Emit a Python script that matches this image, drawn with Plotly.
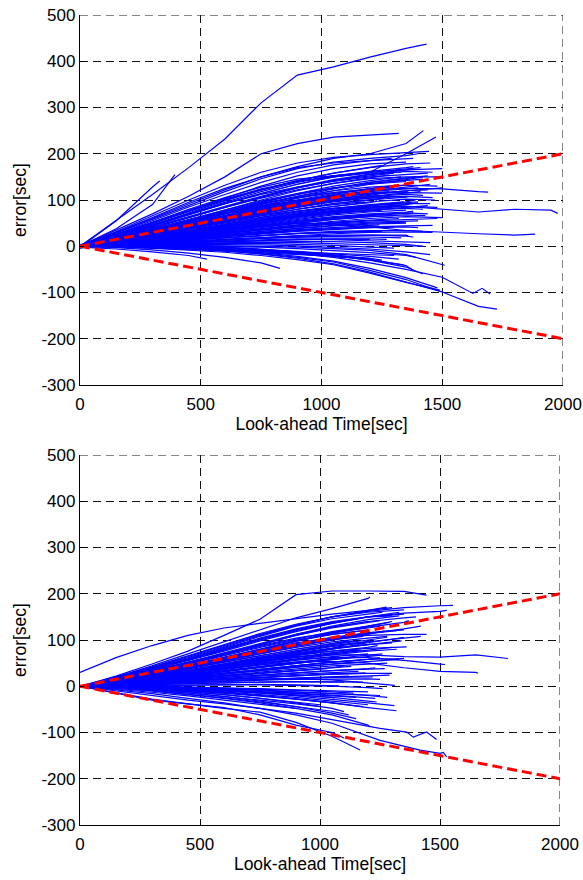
import plotly.graph_objects as go

# ---------------- data ----------------
GRID_T = [0, 150, 300, 450, 600, 750, 900, 1050, 1200, 1350, 1500, 1650, 1800, 1950]

X_TICKS = [0, 500, 1000, 1500, 2000]
X_TICK_TEXT = ["0", "500", "1000", "1500", "2000"]
Y_TICKS = [-300, -200, -100, 0, 100, 200, 300, 400, 500]
Y_TICK_TEXT = ["-300", "-200", "-100", "0", "100", "200", "300", "400", "500"]

RED_T = [0, 250, 500, 750, 1000, 1250, 1500, 1750, 2000]
RED_UP = [0, 25, 50, 75, 100, 125, 150, 175, 200]
RED_LO = [0, -25, -50, -75, -100, -125, -150, -175, -200]

# top panel: end time of each track, values on GRID_T (last value = value at end time)
TOP_END_T = [1320, 1422, 1474, 1445, 1400, 1380, 1290, 1350, 1450, 1410,
             1500, 1250, 1380, 1460, 1330, 1440, 1500, 1420, 1350, 1480,
             1690, 1500, 1300, 1400, 1440, 1360, 1280, 1500, 1420, 1330,
             1460, 1250, 1978, 1885, 1400, 1360, 1300, 1480, 1420, 1350,
             1250, 1440, 1380, 1300, 1500, 1400, 1350, 1460, 1300, 1420,
             1250, 1380, 1330, 1450, 1200, 1420, 1300, 1340, 1510, 1727,
             1500, 1490, 1480, 1420, 1380, 828, 525, 1250, 1300, 1200,
             1435, 330, 393]
TOP_VALUES = [
    [0, 35, 70, 108, 150, 200, 222, 236, 240, 244],
    [0, 30, 62, 95, 125, 150, 172, 190, 200, 222, 250],
    [0, 25, 52, 80, 105, 128, 145, 152, 160, 200, 236],
    [0, 32, 66, 100, 132, 160, 180, 192, 198, 202, 205],
    [0, 28, 58, 88, 118, 146, 168, 182, 190, 196, 200],
    [2, 30, 60, 92, 122, 150, 170, 180, 185, 188, 190],
    [0, 26, 55, 85, 112, 138, 160, 176, 185, 190],
    [-2, 22, 48, 76, 104, 130, 152, 168, 178, 182],
    [0, 24, 50, 75, 100, 122, 142, 158, 170, 178, 180],
    [3, 26, 52, 78, 102, 124, 140, 152, 160, 166, 170],
    [0, 20, 44, 68, 92, 114, 134, 150, 160, 165, 168],
    [0, 22, 46, 72, 98, 122, 142, 158, 170, 175],
    [-3, 20, 45, 70, 95, 118, 138, 152, 162, 170, 172],
    [0, 18, 40, 62, 85, 106, 126, 142, 155, 162, 160],
    [0, 24, 50, 76, 100, 122, 140, 150, 158, 160],
    [2, 22, 46, 70, 92, 112, 128, 140, 150, 156, 158],
    [0, 18, 40, 62, 84, 104, 122, 136, 146, 150, 150],
    [0, 16, 35, 55, 76, 96, 112, 126, 136, 142, 145],
    [-2, 18, 38, 58, 78, 98, 114, 126, 134, 140],
    [0, 14, 32, 52, 72, 92, 108, 120, 128, 132, 130],
    [0, 15, 34, 54, 74, 92, 106, 116, 122, 125, 124, 118, 117],
    [0, 14, 30, 48, 66, 84, 98, 108, 114, 116, 115],
    [3, 16, 34, 52, 70, 88, 104, 116, 124, 128],
    [0, 12, 28, 46, 64, 82, 98, 110, 118, 124, 126],
    [-4, 12, 28, 44, 62, 78, 94, 106, 114, 120, 122],
    [0, 14, 30, 47, 64, 80, 95, 106, 114, 118, 120],
    [0, 16, 34, 52, 70, 86, 100, 110, 116, 118],
    [0, 10, 24, 40, 56, 72, 88, 102, 112, 120, 126],
    [0, 12, 26, 42, 58, 74, 88, 100, 108, 112, 110],
    [2, 13, 28, 44, 60, 76, 90, 100, 106, 108],
    [0, 11, 24, 38, 54, 70, 84, 96, 104, 108, 105],
    [0, 12, 26, 40, 56, 72, 86, 98, 104, 106],
    [0, 12, 26, 40, 54, 66, 76, 82, 85, 86, 80, 74, 80, 78, 71],
    [0, 8, 18, 28, 38, 46, 50, 48, 42, 34, 30, 27, 24, 26],
    [0, 10, 22, 34, 46, 58, 70, 80, 88, 94, 96],
    [-3, 8, 18, 30, 42, 54, 66, 76, 84, 90, 92],
    [0, 10, 20, 32, 44, 56, 68, 78, 84, 88],
    [0, 8, 18, 28, 40, 52, 64, 74, 82, 86, 84],
    [2, 9, 18, 28, 38, 50, 62, 72, 78, 82, 80],
    [0, 7, 16, 26, 36, 48, 58, 68, 74, 78],
    [0, 9, 20, 30, 42, 54, 64, 72, 76, 78],
    [0, 6, 14, 24, 34, 44, 54, 62, 68, 72, 70],
    [0, 8, 16, 25, 34, 44, 52, 60, 66, 70, 72],
    [-2, 6, 14, 22, 32, 42, 50, 58, 64, 66],
    [0, 6, 14, 22, 30, 38, 46, 54, 60, 64, 62],
    [0, 6, 12, 20, 28, 36, 42, 48, 52, 54, 55],
    [0, 5, 12, 18, 25, 32, 38, 44, 48, 50],
    [0, 4, 10, 16, 22, 28, 34, 38, 42, 44, 45],
    [3, 6, 11, 16, 22, 28, 34, 38, 40, 42],
    [0, 3, 8, 13, 18, 24, 28, 32, 34, 34, 32],
    [0, 4, 8, 14, 19, 24, 28, 30, 32, 32],
    [0, 2, 6, 10, 14, 18, 22, 24, 24, 22, 20],
    [-3, 2, 6, 10, 14, 17, 20, 21, 20, 18],
    [0, 2, 5, 8, 10, 12, 14, 14, 12, 10, 8],
    [0, 3, 6, 9, 12, 14, 16, 16, 15],
    [0, 1, 3, 5, 7, 8, 8, 6, 4, 2, 0],
    [0, 2, 4, 6, 6, 6, 4, 2, -2, -4],
    [0, 0, -1, -2, -4, -8, -14, -21, -30, -40],
    [0, 1, 2, 2, 1, 0, -2, -5, -9, -18, -38, -41],
    [0, -1, -3, -6, -10, -16, -24, -34, -52, -72, -99, -130, -136],
    [0, 0, -2, -5, -10, -17, -26, -38, -56, -78, -99],
    [0, -1, -4, -8, -13, -20, -29, -40, -58, -78, -95],
    [0, 0, -2, -4, -8, -14, -22, -32, -48, -68, -90],
    [0, 1, 1, 0, -2, -6, -12, -20, -30, -45, -60],
    [0, 0, 0, -1, -3, -7, -12, -18, -28, -42, -52],
    [0, -3, -8, -15, -24, -36, -48],
    [-2, -6, -12, -20, -28],
    [0, 0, -1, -3, -6, -10, -15, -20, -26, -30],
    [0, -1, -2, -4, -7, -10, -13, -16, -18, -20],
    [0, -2, -4, -7, -10, -14, -18, -22, -26],
    [0, 55, 112, 170, 232, 310, 370, 388, 409, 428, 437],
    [-2, 55, 128, 141],
    [0, 38, 90, 155],
]
TOP_END_T2 = [1390, 1310, 1450, 1270, 1410, 1360, 1230, 1470, 1340, 1400,
              1290, 1440, 1380, 1260, 1430, 1320, 1480, 1350, 1240, 1400,
              1300, 1460, 1360, 1270, 1420, 1330, 1280, 1440, 1370, 1300,
              1220, 1350, 1260, 1390, 1450, 1180, 1120, 1080, 1150, 1000,
              1420, 1390, 1320, 1450, 1200, 1100]
TOP_VALUES2 = [
    [0, 18, 36, 56, 74, 94, 112, 126, 138, 146, 150],
    [0, 15, 33, 50, 68, 84, 100, 114, 124, 132],
    [-2, 14, 30, 46, 62, 80, 96, 110, 120, 128, 134],
    [0, 13, 28, 44, 60, 74, 90, 102, 110, 116],
    [0, 12, 26, 40, 56, 70, 84, 98, 108, 116, 118],
    [2, 12, 25, 38, 52, 66, 80, 92, 100, 106, 108],
    [0, 11, 24, 37, 50, 64, 76, 86, 94, 98],
    [0, 10, 22, 34, 48, 62, 74, 86, 96, 102, 100],
    [0, 9, 20, 32, 44, 58, 70, 82, 90, 96],
    [-3, 9, 19, 30, 42, 54, 66, 76, 84, 90, 94],
    [0, 10, 21, 32, 44, 55, 66, 74, 80, 84],
    [0, 8, 17, 27, 38, 50, 60, 70, 78, 84, 88],
    [0, 7, 16, 25, 35, 46, 56, 64, 70, 74, 76],
    [1, 8, 17, 26, 35, 45, 54, 62, 68, 70],
    [0, 7, 15, 23, 32, 41, 50, 58, 64, 68, 66],
    [0, 6, 13, 21, 29, 38, 46, 52, 56, 60],
    [0, 6, 12, 19, 27, 35, 43, 50, 55, 58, 60],
    [-2, 5, 11, 18, 25, 32, 39, 45, 50, 52],
    [0, 5, 11, 17, 24, 30, 36, 40, 44, 46],
    [0, 4, 9, 15, 21, 27, 32, 36, 40, 42, 40],
    [0, 4, 8, 13, 18, 23, 27, 30, 32, 34],
    [0, 3, 7, 11, 15, 20, 24, 27, 30, 31, 30],
    [0, 3, 6, 10, 13, 17, 20, 22, 24, 24, 22],
    [2, 4, 6, 9, 11, 13, 15, 16, 16, 15],
    [0, 14, 30, 48, 66, 86, 104, 120, 134, 144, 150],
    [0, 16, 34, 54, 74, 94, 114, 130, 142, 150],
    [0, 17, 36, 56, 78, 100, 120, 136, 148, 154],
    [0, 15, 32, 50, 70, 90, 108, 124, 138, 148, 152],
    [0, 20, 42, 64, 86, 108, 128, 144, 156, 164, 166],
    [0, 19, 40, 62, 84, 106, 126, 142, 152, 158],
    [0, 21, 44, 68, 92, 114, 134, 150, 160, 164],
    [0, 13, 28, 44, 60, 78, 96, 112, 124, 132],
    [0, 11, 24, 38, 52, 66, 80, 92, 100, 104],
    [0, 8, 18, 29, 40, 52, 64, 76, 88, 96, 100],
    [0, 10, 22, 35, 48, 60, 72, 82, 88, 92, 92],
    [0, 12, 26, 40, 54, 68, 80, 90, 96],
    [0, 14, 30, 46, 62, 78, 92, 104, 110],
    [0, 10, 22, 34, 46, 58, 68, 76, 80],
    [0, 6, 13, 20, 28, 36, 44, 50, 54],
    [0, 5, 10, 16, 22, 28, 34, 38],
    [0, 2, 4, 6, 8, 9, 10, 10, 8, 4, 0],
    [0, 1, 1, 1, 0, -2, -5, -9, -14, -20, -24],
    [0, 0, -1, -2, -4, -7, -11, -16, -22, -28],
    [0, 2, 3, 4, 4, 3, 1, -2, -6, -12, -18],
    [0, -1, -2, -4, -7, -11, -16, -22, -28],
    [0, 0, -2, -4, -7, -11, -16, -21, -25],
]
# tracks with irregular sample times (zig-zag endings)
TOP_EXTRA_T = [[0, 150, 300, 450, 600, 750, 900, 1050, 1200, 1350, 1500, 1627, 1665, 1698]]
TOP_EXTRA_V = [[0, 0, -1, -3, -6, -10, -16, -24, -36, -50, -67, -102, -91, -103]]

BOT_END_T = [1300, 1444, 1554, 1528, 1208, 1278, 1330, 1400, 1444, 1783,
             1658, 1521, 1361, 1312, 1236, 1319, 1167, 1208, 1150, 1100,
             1250, 1100, 1300, 1250, 1200, 1350, 1180, 1280, 1150, 1220,
             1300, 1100, 1240, 1170, 1320, 1200, 1260, 1130, 1350, 1190,
             1280, 1100, 1230, 1160, 1300, 1120, 1250, 1180, 1080, 1200,
             1150, 1280, 1060, 1200, 1000, 1350, 1420, 1300, 1260, 1350,
             1330]
BOT_VALUES = [
    [30, 62, 88, 110, 126, 136, 146, 156, 164, 170],
    [0, 22, 48, 76, 110, 145, 198, 206, 206, 205, 197],
    [0, 18, 40, 64, 88, 112, 132, 150, 162, 170, 174, 175],
    [0, 16, 36, 58, 80, 102, 122, 138, 150, 158, 162, 164],
    [0, 20, 44, 70, 96, 122, 148, 168, 190, 193],
    [0, 18, 40, 62, 86, 110, 132, 150, 164, 171],
    [0, 16, 36, 56, 78, 100, 120, 136, 150, 160],
    [0, 14, 32, 52, 72, 92, 112, 128, 140, 148, 150],
    [0, 12, 28, 44, 62, 78, 94, 104, 110, 112, 112],
    [0, 10, 22, 34, 46, 56, 64, 68, 68, 64, 63, 68, 60],
    [0, 8, 18, 28, 38, 46, 52, 54, 50, 40, 32, 30, 28],
    [0, 9, 20, 30, 40, 50, 58, 62, 62, 56, 48, 47],
    [0, 10, 22, 34, 46, 58, 68, 76, 82, 85, 85],
    [0, 4, 8, 12, 15, 16, 16, 14, 8, 2],
    [0, -2, -4, -6, -9, -13, -18, -24, -32, -34],
    [0, -3, -6, -10, -14, -20, -28, -36, -46, -53],
    [0, -14, -28, -38, -48, -56, -78, -108, -138],
    [0, -4, -10, -18, -26, -36, -48, -62, -84, -88],
    [0, -3, -8, -14, -22, -32, -44, -58, -70],
    [0, -2, -6, -11, -18, -26, -36, -48, -55],
    [0, 0, -1, -3, -5, -8, -12, -16, -20, -20],
    [0, -15, -30, -38, -46, -62, -84, -100, -112],
    [0, 14, 32, 50, 68, 86, 102, 118, 130, 140],
    [0, 16, 34, 52, 70, 88, 104, 116, 126, 130],
    [0, 14, 30, 48, 66, 84, 100, 112, 122],
    [0, 12, 28, 44, 60, 76, 92, 106, 116, 122],
    [0, 12, 26, 42, 58, 74, 88, 100, 108],
    [0, 10, 24, 38, 54, 70, 84, 96, 104, 108],
    [0, 11, 24, 38, 52, 66, 80, 92, 98],
    [0, 10, 22, 34, 48, 62, 76, 88, 96, 98],
    [0, 9, 20, 32, 44, 58, 70, 82, 90, 94],
    [0, 10, 22, 34, 46, 60, 72, 82, 88],
    [0, 8, 18, 30, 42, 54, 66, 76, 84, 88],
    [0, 8, 18, 28, 40, 52, 62, 72, 78],
    [0, 7, 16, 26, 36, 48, 58, 68, 76, 80],
    [0, 8, 16, 26, 36, 46, 56, 64, 70],
    [0, 6, 14, 22, 32, 42, 52, 60, 66, 70],
    [0, 7, 15, 24, 32, 42, 50, 58, 62],
    [0, 6, 12, 20, 28, 36, 44, 52, 58, 60],
    [0, 5, 12, 18, 26, 34, 42, 48, 52],
    [0, 5, 11, 17, 24, 31, 38, 44, 48, 50],
    [0, 5, 10, 16, 22, 28, 34, 40, 44],
    [0, 4, 9, 14, 19, 24, 30, 34, 38, 40],
    [0, 4, 8, 12, 17, 22, 26, 30, 32],
    [0, 3, 7, 11, 15, 19, 23, 26, 28, 28],
    [0, 3, 6, 9, 12, 15, 18, 20, 22],
    [0, 2, 5, 8, 11, 13, 15, 16, 16, 15],
    [0, 2, 4, 6, 8, 9, 10, 10, 9],
    [0, 1, 2, 3, 4, 4, 3, 2, 1],
    [0, 0, -1, -2, -3, -5, -8, -10, -12],
    [0, -1, -3, -5, -8, -12, -16, -20, -24],
    [0, -1, -2, -4, -6, -9, -12, -16, -20, -24],
    [0, -2, -5, -9, -14, -20, -27, -34, -36],
    [0, -2, -4, -8, -12, -18, -24, -32, -40],
    [0, -3, -7, -12, -18, -26, -34, -40],
    [0, 8, 18, 28, 40, 52, 66, 80, 94, 106],
    [0, 12, 26, 40, 56, 72, 88, 102, 114, 124, 130],
    [0, 16, 36, 58, 82, 104, 124, 140, 150, 152],
    [0, 18, 38, 60, 84, 108, 130, 146, 156, 160],
    [0, 20, 42, 66, 90, 114, 134, 150, 160, 165],
    [0, 14, 30, 48, 68, 90, 112, 130, 144, 152],
]
BOT_END_T2 = [1250, 1180, 1320, 1120, 1280, 1210, 1150, 1300, 1080, 1240,
              1170, 1330, 1130, 1270, 1190, 1220, 1100, 1260, 1140, 1230,
              1060, 1310, 1180, 1000, 1120, 900, 1290, 1200, 1350, 1160,
              1270, 1190, 1340, 1110, 1250, 1030, 1370, 1420, 1160, 1290]
BOT_VALUES2 = [
    [0, 15, 32, 50, 70, 90, 110, 126, 138, 142],
    [0, 13, 28, 44, 62, 80, 98, 112, 120],
    [0, 12, 26, 41, 57, 74, 90, 104, 114, 120],
    [0, 11, 24, 38, 52, 66, 80, 92, 98],
    [0, 10, 22, 35, 49, 63, 77, 90, 100, 106],
    [0, 9, 20, 32, 45, 58, 70, 82, 90, 92],
    [0, 9, 19, 30, 41, 52, 63, 72, 78],
    [0, 8, 17, 27, 38, 49, 60, 70, 78, 84],
    [0, 8, 16, 25, 34, 43, 52, 60, 64],
    [0, 7, 15, 24, 33, 42, 50, 58, 64, 66],
    [0, 6, 13, 21, 29, 37, 45, 52, 56],
    [0, 6, 12, 19, 26, 34, 41, 48, 54, 58],
    [0, 5, 11, 17, 23, 29, 35, 40, 43],
    [0, 5, 10, 15, 20, 25, 30, 34, 37, 38],
    [0, 4, 8, 12, 16, 20, 24, 27, 29],
    [0, 3, 6, 9, 12, 15, 17, 19, 20, 20],
    [0, 2, 4, 6, 8, 9, 10, 10, 9],
    [0, 1, 2, 3, 3, 3, 2, 0, -3, -5],
    [0, 0, -1, -2, -4, -6, -9, -12, -15],
    [0, -1, -3, -5, -8, -11, -15, -19, -24, -26],
    [0, -2, -4, -7, -10, -14, -19, -24, -26],
    [0, -1, -3, -6, -10, -15, -21, -28, -36, -42],
    [0, -3, -6, -10, -15, -21, -28, -36, -44],
    [0, -4, -9, -15, -22, -30, -38, -44],
    [0, -4, -10, -17, -25, -34, -44, -54, -62],
    [0, -6, -13, -21, -30, -40, -48],
    [0, 14, 29, 45, 62, 80, 98, 116, 130, 138],
    [0, 16, 33, 51, 70, 90, 110, 128, 140],
    [0, 17, 36, 56, 76, 98, 118, 136, 150, 156],
    [0, 18, 38, 58, 80, 102, 122, 138, 146],
    [0, 12, 25, 39, 54, 70, 86, 100, 112, 120],
    [0, 10, 21, 33, 46, 60, 74, 86, 94],
    [0, 9, 19, 30, 42, 55, 68, 80, 90, 98],
    [0, 7, 14, 22, 31, 40, 49, 57, 62],
    [0, 6, 13, 20, 28, 36, 44, 52, 58, 62],
    [0, 5, 10, 16, 22, 28, 34, 38],
    [0, 13, 28, 44, 61, 79, 97, 114, 128, 138, 142],
    [0, 10, 21, 33, 46, 60, 74, 86, 96, 104, 108],
    [0, 3, 7, 11, 15, 19, 23, 26, 28],
    [0, 2, 5, 8, 11, 14, 17, 20, 22, 24],
]
BOT_EXTRA_T = [[0, 150, 300, 450, 600, 750, 900, 1050, 1250, 1361, 1389, 1444, 1486],
               [0, 150, 300, 450, 600, 750, 900, 1050, 1250, 1417, 1500, 1514, 1528]]
BOT_EXTRA_V = [[0, -10, -20, -30, -38, -48, -58, -72, -91, -99, -110, -99, -115],
               [0, -8, -16, -26, -36, -48, -62, -80, -117, -138, -145, -143, -153]]

# ---------------- figure ----------------
W, H = 583, 880
BLUE = "#0000ff"
FONT = "Liberation Sans, Arial, sans-serif"
GRID_DASH = "8px,5px"
GRID_COLOR = "#111111"


def grid_track(end_t, vals):
    ts = [g for g in GRID_T if g < end_t]
    n = min(len(ts), len(vals) - 1)
    return ts[:n] + [end_t], list(vals[:n]) + [vals[-1]]


fig = go.Figure()


def add_panel(groups, extra_t, extra_v, xa, ya):
    for ends, values in groups:
        for e, v in zip(ends, values):
            t, y = grid_track(e, v)
            fig.add_trace(go.Scatter(x=t, y=y, mode="lines", xaxis=xa, yaxis=ya,
                                     line=dict(color=BLUE, width=1.2), hoverinfo="skip"))
    for t, y in zip(extra_t, extra_v):
        fig.add_trace(go.Scatter(x=t, y=y, mode="lines", xaxis=xa, yaxis=ya,
                                 line=dict(color=BLUE, width=1.2), hoverinfo="skip"))
    for ry in (RED_UP, RED_LO):
        fig.add_trace(go.Scatter(x=RED_T, y=ry, mode="lines", xaxis=xa, yaxis=ya,
                                 line=dict(color="#ff0000", width=3, dash="10px,5px"),
                                 hoverinfo="skip"))


add_panel([(TOP_END_T, TOP_VALUES), (TOP_END_T2, TOP_VALUES2)],
          TOP_EXTRA_T, TOP_EXTRA_V, "x", "y")
add_panel([(BOT_END_T, BOT_VALUES), (BOT_END_T2, BOT_VALUES2)],
          BOT_EXTRA_T, BOT_EXTRA_V, "x2", "y2")

tickfont = dict(family=FONT, size=17, color="black")
titlefont = dict(family=FONT, size=17.5, color="black")


def xaxis(domain, anchor):
    return dict(domain=domain, anchor=anchor, range=[0, 2000],
                tickmode="array", tickvals=X_TICKS, ticktext=X_TICK_TEXT,
                showgrid=True, gridcolor=GRID_COLOR, griddash=GRID_DASH, gridwidth=1,
                zeroline=False, showline=True, linecolor="black", linewidth=1.3,
                ticks="inside", ticklen=4, tickcolor="black", tickfont=tickfont,
                ticklabelstandoff=3, automargin=False,
                title=dict(text="Look-ahead Time[sec]", font=titlefont, standoff=5))


def yaxis(domain, anchor):
    return dict(domain=domain, anchor=anchor, range=[-300, 500],
                tickmode="array", tickvals=Y_TICKS, ticktext=Y_TICK_TEXT,
                showgrid=True, gridcolor=GRID_COLOR, griddash=GRID_DASH, gridwidth=1,
                zeroline=False, showline=True, linecolor="black", linewidth=1.3,
                ticks="inside", ticklen=4, tickcolor="black", tickfont=tickfont,
                automargin=False,
                title=dict(text="error[sec]", font=titlefont, standoff=10))


# dashed grid lines along the top (500) and right (2000) borders
shapes = []
for xa, ya in (("x", "y"), ("x2", "y2")):
    shapes.append(dict(type="line", xref=xa + " domain", x0=0, x1=1, yref=ya, y0=500, y1=500,
                       line=dict(color=GRID_COLOR, width=1, dash=GRID_DASH), layer="below"))
    shapes.append(dict(type="line", xref=xa, x0=2000, x1=2000, yref=ya + " domain", y0=0, y1=1,
                       line=dict(color=GRID_COLOR, width=1, dash=GRID_DASH), layer="below"))

fig.update_layout(
    width=W, height=H, showlegend=False,
    paper_bgcolor="white", plot_bgcolor="white",
    margin=dict(l=0, r=0, t=0, b=0),
    xaxis=xaxis([80 / W, 563 / W], "y"),
    yaxis=yaxis([(H - 385) / H, (H - 15) / H], "x"),
    xaxis2=xaxis([80 / W, 560 / W], "y2"),
    yaxis2=yaxis([(H - 825) / H, (H - 455) / H], "x2"),
    shapes=shapes,
)

fig.write_html("out.html")
